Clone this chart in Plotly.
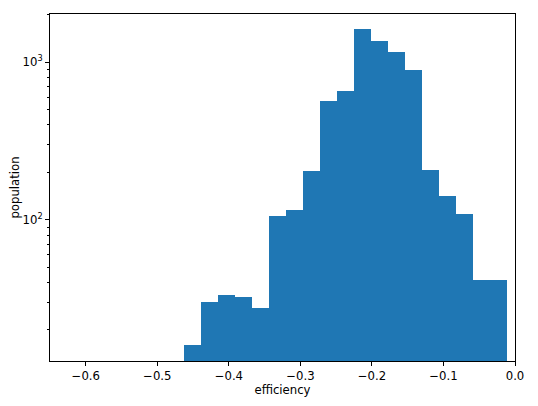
import plotly.graph_objects as go
import math

# Histogram data
bin_start = -0.4622
bin_width = 0.023732
counts = [16.0, 30.3, 33.1, 32.2, 27.4, 106, 114.6, 205, 566, 661,
          1618, 1358, 1156, 894, 207, 142, 108.7, 41.2, 41.2]

x_range = [-0.65, 0.0]
y_range = [12.7, 2023]
x_ticks = [-0.6, -0.5, -0.4, -0.3, -0.2, -0.1, 0.0]
x_tick_labels = ["\u22120.6", "\u22120.5", "\u22120.4", "\u22120.3", "\u22120.2", "\u22120.1", "0.0"]
y_ticks = [100, 1000]
y_tick_labels = ["10<sup>2</sup>", "10<sup>3</sup>"]
y_minor = [20, 30, 40, 50, 60, 70, 80, 90, 200, 300, 400, 500, 600, 700, 800, 900, 2000]

centers = [bin_start + (i + 0.5) * bin_width for i in range(len(counts))]

fig = go.Figure()
fig.add_trace(go.Bar(
    x=centers, y=counts, width=[bin_width] * len(counts),
    marker=dict(color="#1f77b4", line=dict(width=0)),
))

font = dict(family="DejaVu Sans", size=11.7, color="black")
fig.update_layout(
    width=530, height=398,
    margin=dict(l=42, r=23, t=6, b=45, autoexpand=False),
    paper_bgcolor="white", plot_bgcolor="white",
    showlegend=False, bargap=0,
    font=font,
    xaxis=dict(
        range=x_range, tickvals=x_ticks, ticktext=x_tick_labels,
        showline=True, linecolor="black", linewidth=1, mirror=True,
        ticks="outside", ticklen=4, tickwidth=1, tickcolor="black",
        showgrid=False, zeroline=False, automargin=False,
        title=dict(text="efficiency", font=font, standoff=0),
    ),
    yaxis=dict(
        type="log", range=[math.log10(y_range[0]), math.log10(y_range[1])],
        tickvals=y_ticks, ticktext=y_tick_labels,
        showline=True, linecolor="black", linewidth=1, mirror=True,
        ticks="outside", ticklen=4, tickwidth=1, tickcolor="black",
        showgrid=False, zeroline=False, automargin=False,
        minor=dict(tickvals=y_minor, ticks="outside", ticklen=2.5, tickwidth=0.8,
                   tickcolor="black", showgrid=False),
        title=dict(text="population", font=font, standoff=0),
    ),
)

fig.write_html("out.html")
